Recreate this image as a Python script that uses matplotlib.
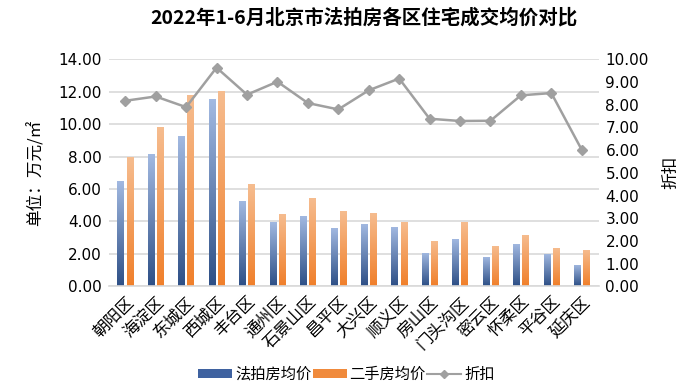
import numpy as np
import matplotlib
matplotlib.use('Agg')
import matplotlib.pyplot as plt
from matplotlib.colors import LinearSegmentedColormap
from matplotlib.lines import Line2D
from matplotlib.patches import Patch

plt.rcParams['font.family'] = ['Noto Sans CJK SC', 'DejaVu Sans']

districts = ['朝阳区', '海淀区', '东城区', '西城区', '丰台区', '通州区', '石景山区', '昌平区',
             '大兴区', '顺义区', '房山区', '门头沟区', '密云区', '怀柔区', '平谷区', '延庆区']
auction_price = [6.52, 8.17, 9.26, 11.52, 5.29, 3.99, 4.34, 3.62,
                 3.87, 3.64, 2.08, 2.92, 1.83, 2.63, 2.00, 1.30]
resale_price = [8.00, 9.81, 11.77, 12.04, 6.28, 4.49, 5.43, 4.63,
                4.53, 3.95, 2.78, 3.99, 2.49, 3.15, 2.35, 2.22]
discount = [8.17, 8.36, 7.89, 9.63, 8.44, 9.01, 8.07, 7.79,
            8.63, 9.15, 7.38, 7.28, 7.29, 8.41, 8.51, 6.01]

blue_cmap = LinearSegmentedColormap.from_list('b', ['#2d4f86', '#a3bae2'])
orange_cmap = LinearSegmentedColormap.from_list('o', ['#f07f2a', '#f6bd90'])


def gradient_bars(ax, xs, heights, width, cmap):
    bars = ax.bar(xs, heights, width=width, color='none', edgecolor='none', zorder=2)
    grad = np.linspace(0, 1, 256).reshape(-1, 1)
    for b in bars:
        x0, w, h = b.get_x(), b.get_width(), b.get_height()
        im = ax.imshow(grad, cmap=cmap, origin='lower', aspect='auto',
                       extent=[x0, x0 + w, 0, h], zorder=2)
        im.set_clip_path(b)


fig = plt.figure(figsize=(7, 3.87), dpi=100)
ax = fig.add_axes([0.155, 0.26, 0.70, 0.587])
x = np.arange(len(districts))
w = 0.21
gradient_bars(ax, x - 0.15, auction_price, w, blue_cmap)
gradient_bars(ax, x + 0.15, resale_price, w, orange_cmap)

ax.set_xlim(-0.55, len(districts) - 0.45)
ax.set_ylim(0, 14)
ax.set_yticks(np.arange(0, 15, 2))
ax.set_yticklabels([f'{v:.2f}' for v in np.arange(0, 15, 2)], fontsize=11, family='DejaVu Sans')
ax.yaxis.grid(True, color='#d9d9d9', linewidth=1.2, zorder=0)
ax.set_axisbelow(True)
for s in ['top', 'right', 'left']:
    ax.spines[s].set_visible(False)
ax.spines['bottom'].set_color('#d9d9d9')
ax.spines['bottom'].set_linewidth(1.2)
ax.tick_params(axis='both', length=0, pad=5)
ax.set_xticks(x)
ax.set_xticklabels(districts, rotation=45, ha='right', rotation_mode='anchor', fontsize=12)
ax.set_ylabel('单位：万元/㎡', fontsize=12, labelpad=10)

ax2 = ax.twinx()
ax2.plot(x, discount, color='#a0a0a0', linewidth=1.8, marker='D', markersize=5.5,
         markerfacecolor='#a0a0a0', markeredgecolor='#a0a0a0', zorder=3)
ax2.set_ylim(0, 10)
ax2.set_yticks(np.arange(0, 11, 1))
ax2.set_yticklabels([f'{v:.2f}' for v in np.arange(0, 11, 1)], fontsize=11, family='DejaVu Sans')
ax2.tick_params(length=0, pad=5)
for s in ['top', 'right', 'left', 'bottom']:
    ax2.spines[s].set_visible(False)
ax2.set_ylabel('折扣', fontsize=12, rotation=90, labelpad=10)

fig.suptitle('2022年1-6月北京市法拍房各区住宅成交均价对比', fontsize=14,
             fontweight='bold', x=0.52, y=0.98)

handles = [Patch(facecolor='#3f62a0', label='法拍房均价'),
           Patch(facecolor='#f08a3c', label='二手房均价'),
           Line2D([0], [0], color='#a0a0a0', marker='D', markersize=4, label='折扣')]
fig.legend(handles=handles, loc='lower center', ncol=3, frameon=False, fontsize=11,
           bbox_to_anchor=(0.495, -0.025), handlelength=2.2, handleheight=0.5,
           columnspacing=0.1, handletextpad=0.2)

fig.savefig('out.png', dpi=100)
